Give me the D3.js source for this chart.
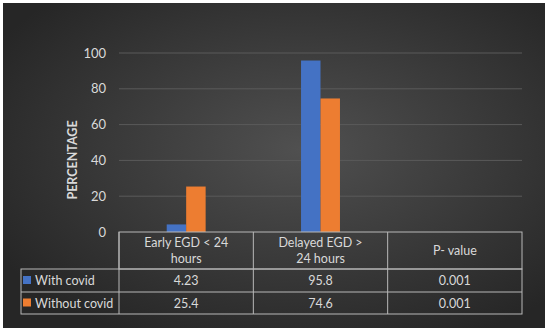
<!DOCTYPE html>
<html>
<head>
<meta charset="utf-8">
<script src="https://cdn.jsdelivr.net/npm/d3@7"></script>
<style>
  body { margin: 0; background: #fff; }
  text { font-family: Lato, "Open Sans", sans-serif; fill: #d9d9d9; }
</style>
</head>
<body>
<svg id="chart" width="550" height="333"></svg>
<script>
var categories = ["Early EGD < 24 hours", "Delayed EGD > 24 hours", "P- value"];
var headerLines = [["Early EGD < 24", "hours"], ["Delayed EGD >", "24 hours"], ["P- value"]];
var seriesNames = ["With covid", "Without covid"];
var withCovid = [4.23, 95.8, 0.001];
var withoutCovid = [25.4, 74.6, 0.001];
var cellText = [["4.23", "95.8", "0.001"], ["25.4", "74.6", "0.001"]];
var yTicks = [0, 20, 40, 60, 80, 100];
var colors = ["#4472c4", "#ed7d31"];

var svg = d3.select("#chart");
var defs = svg.append("defs");
var grad = defs.append("radialGradient").attr("id", "bg")
    .attr("cx", "55%").attr("cy", "45%").attr("r", "65%");
grad.append("stop").attr("offset", "0%").attr("stop-color", "#505050");
grad.append("stop").attr("offset", "100%").attr("stop-color", "#262626");

svg.append("rect").attr("x", 3).attr("y", 3).attr("width", 542).attr("height", 325)
    .attr("fill", "url(#bg)");

var plotLeft = 119, plotRight = 522, plotTop = 53, plotBottom = 232;
var x = d3.scaleBand().domain(categories).range([plotLeft, plotRight]);
var y = d3.scaleLinear().domain([0, 100]).range([plotBottom, plotTop]);
var xs = d3.scaleBand().domain(seriesNames).range([0, x.bandwidth()]).paddingInner(0).paddingOuter(2.45);

// gridlines
svg.append("g").selectAll("line").data(yTicks.slice(1)).enter().append("line")
    .attr("x1", plotLeft).attr("x2", plotRight)
    .attr("y1", function(d) { return y(d); }).attr("y2", function(d) { return y(d); })
    .attr("stroke", "#5a5a5a").attr("stroke-width", 1);

// y tick labels
svg.append("g").selectAll("text").data(yTicks).enter().append("text")
    .attr("x", 106).attr("y", function(d) { return y(d) + 4.5; })
    .attr("text-anchor", "end").attr("font-size", 13)
    .text(function(d) { return d; });

svg.append("text").attr("transform", "translate(77,160) rotate(-90)")
    .attr("text-anchor", "middle").attr("font-size", 12.5).attr("font-weight", "bold")
    .text("PERCENTAGE");

// bars
var series = [withCovid, withoutCovid];
series.forEach(function(vals, si) {
  svg.append("g").selectAll("rect").data(vals).enter().append("rect")
    .attr("x", function(d, i) { return x(categories[i]) + xs(seriesNames[si]); })
    .attr("width", xs.bandwidth())
    .attr("y", function(d) { return y(d); })
    .attr("height", function(d) { return plotBottom - y(d); })
    .attr("fill", colors[si]);
});

// data table
var rowY = [232, 269, 292, 314];
var tableLeft = 21;
var lineColor = "#b8b8b8";
var tg = svg.append("g").attr("stroke", lineColor).attr("stroke-width", 1).attr("fill", "none");
tg.append("rect").attr("x", plotLeft).attr("y", rowY[0]).attr("width", plotRight - plotLeft).attr("height", rowY[1] - rowY[0]);
tg.append("rect").attr("x", tableLeft).attr("y", rowY[1]).attr("width", plotRight - tableLeft).attr("height", rowY[3] - rowY[1]);
tg.append("line").attr("x1", tableLeft).attr("x2", plotRight).attr("y1", rowY[2]).attr("y2", rowY[2]);
categories.forEach(function(c) {
  var xx = x(c);
  tg.append("line").attr("x1", xx).attr("x2", xx).attr("y1", rowY[0]).attr("y2", rowY[3]);
});

headerLines.forEach(function(lines, i) {
  var cx = x(categories[i]) + x.bandwidth() / 2;
  var mid = (rowY[0] + rowY[1]) / 2;
  lines.forEach(function(l, j) {
    svg.append("text").attr("x", cx)
      .attr("y", mid + 4.5 + (j - (lines.length - 1) / 2) * 16)
      .attr("text-anchor", "middle").attr("font-size", 12.5).text(l);
  });
});

seriesNames.forEach(function(name, si) {
  var mid = (rowY[si + 1] + rowY[si + 2]) / 2;
  svg.append("rect").attr("x", 23).attr("y", mid - 4.5).attr("width", 8).attr("height", 8).attr("fill", colors[si]);
  svg.append("text").attr("x", 35).attr("y", mid + 4.5).attr("font-size", 12.5).text(name);
  cellText[si].forEach(function(t, i) {
    svg.append("text").attr("x", x(categories[i]) + x.bandwidth() / 2).attr("y", mid + 4.5)
      .attr("text-anchor", "middle").attr("font-size", 12.5).text(t);
  });
});
</script>
</body>
</html>
